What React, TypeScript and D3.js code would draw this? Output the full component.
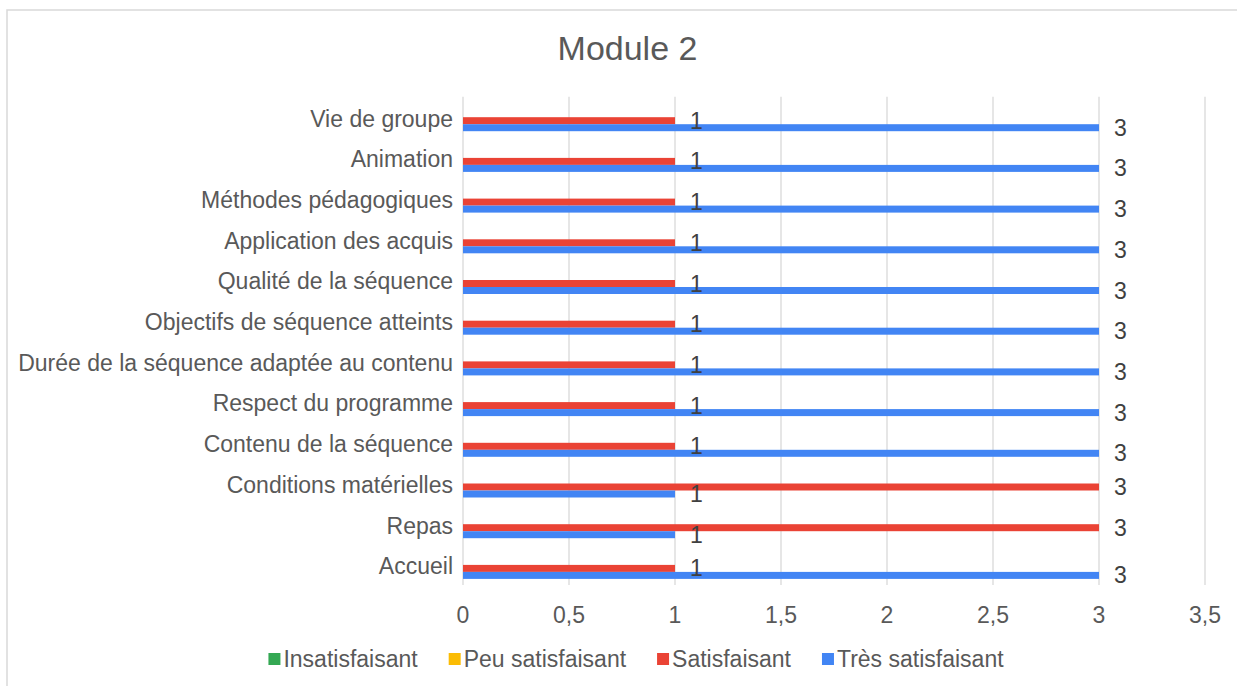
import React, { useEffect, useRef } from "react";
import * as d3 from "d3";

const title = "Module 2";
const categories = [
  "Vie de groupe",
  "Animation",
  "Méthodes pédagogiques",
  "Application des acquis",
  "Qualité de la séquence",
  "Objectifs de séquence atteints",
  "Durée de la séquence adaptée au contenu",
  "Respect du programme",
  "Contenu de la séquence",
  "Conditions matérielles",
  "Repas",
  "Accueil",
];
const seriesNames = ["Insatisfaisant", "Peu satisfaisant", "Satisfaisant", "Très satisfaisant"];
const seriesColors = ["#34a853", "#fbbc04", "#ea4335", "#4285f4"];
const insatisfaisant = [0, 0, 0, 0, 0, 0, 0, 0, 0, 0, 0, 0];
const peuSatisfaisant = [0, 0, 0, 0, 0, 0, 0, 0, 0, 0, 0, 0];
const satisfaisant = [1, 1, 1, 1, 1, 1, 1, 1, 1, 3, 3, 1];
const tresSatisfaisant = [3, 3, 3, 3, 3, 3, 3, 3, 3, 1, 1, 3];
const seriesValues = [insatisfaisant, peuSatisfaisant, satisfaisant, tresSatisfaisant];
const xTicks = [0, 0.5, 1, 1.5, 2, 2.5, 3, 3.5];

const W = 1237;
const H = 686;
const TEXT = "#595959";
const FONT = "'Liberation Sans', Arial, sans-serif";
const FS = 23;

export default function App() {
  const ref = useRef<SVGSVGElement | null>(null);

  useEffect(() => {
    const svg = d3.select(ref.current);
    svg.selectAll("*").remove();

    svg
      .append("rect")
      .attr("x", 7)
      .attr("y", 10)
      .attr("width", W + 20)
      .attr("height", H + 20)
      .attr("fill", "#fff")
      .attr("stroke", "#d9d9d9")
      .attr("stroke-width", 1.5);

    svg
      .append("text")
      .attr("x", 627.5)
      .attr("y", 60)
      .attr("text-anchor", "middle")
      .attr("font-family", FONT)
      .attr("font-size", 34)
      .attr("fill", TEXT)
      .text(title);

    const x = d3.scaleLinear().domain([0, 3.5]).range([463, 1205]);
    const y = d3.scaleBand<string>().domain(categories).range([96.7, 585.1]).padding(0);
    const sub = d3
      .scaleBand<string>()
      .domain(seriesNames)
      .range([6.5, 34.5])
      .padding(0);

    // gridlines
    svg
      .append("g")
      .selectAll("line")
      .data(xTicks)
      .join("line")
      .attr("x1", (d) => x(d))
      .attr("x2", (d) => x(d))
      .attr("y1", 96.7)
      .attr("y2", 585.1)
      .attr("stroke", "#d9d9d9")
      .attr("stroke-width", 1.3);

    // tick labels
    svg
      .append("g")
      .selectAll("text")
      .data(xTicks)
      .join("text")
      .attr("x", (d) => x(d))
      .attr("y", 623)
      .attr("text-anchor", "middle")
      .attr("font-family", FONT)
      .attr("font-size", FS)
      .attr("fill", TEXT)
      .text((d) => String(d).replace(".", ","));

    // category labels
    svg
      .append("g")
      .selectAll("text")
      .data(categories)
      .join("text")
      .attr("x", 453)
      .attr("y", (d) => (y(d) as number) + y.bandwidth() / 2 + 9.5)
      .attr("text-anchor", "end")
      .attr("font-family", FONT)
      .attr("font-size", FS)
      .attr("fill", TEXT)
      .text((d) => d);

    // bars
    seriesNames.forEach((s, si) => {
      const vals = seriesValues[si];
      svg
        .append("g")
        .selectAll("rect")
        .data(categories)
        .join("rect")
        .attr("x", x(0))
        .attr("y", (d) => (y(d) as number) + (sub(s) as number))
        .attr("width", (d, i) => x(vals[i]) - x(0))
        .attr("height", sub.bandwidth())
        .attr("fill", seriesColors[si]);
    });

    // data labels (drawn on top of all bars)
    seriesNames.forEach((s, si) => {
      const vals = seriesValues[si];
      svg
        .append("g")
        .selectAll("text")
        .data(categories.filter((_, i) => vals[i] > 0))
        .join("text")
        .attr("x", (d) => x(vals[categories.indexOf(d)]) + 15)
        .attr("y", (d) => (y(d) as number) + (sub(s) as number) + sub.bandwidth() / 2 + 8)
        .attr("font-family", FONT)
        .attr("font-size", FS)
        .attr("fill", "#404040")
        .text((d) => String(vals[categories.indexOf(d)]));
    });

    // legend
    const leg = svg.append("g");
    const items = leg.selectAll("g").data(seriesNames).join("g");
    items
      .append("rect")
      .attr("width", 12)
      .attr("height", 12)
      .attr("y", 653)
      .attr("fill", (d, i) => seriesColors[i]);
    items
      .append("text")
      .attr("x", 15)
      .attr("y", 667)
      .attr("font-family", FONT)
      .attr("font-size", FS)
      .attr("fill", TEXT)
      .text((d) => d);
    const widths: number[] = [];
    items.each(function () {
      const t = d3.select(this).select("text").node() as SVGTextElement;
      widths.push(15 + t.getComputedTextLength());
    });
    const gap = 31;
    const total = widths.reduce((a, b) => a + b, 0) + gap * (widths.length - 1);
    let start = 636 - total / 2;
    items.attr("transform", (d, i) => {
      const tx = start;
      start += widths[i] + gap;
      return `translate(${tx},0)`;
    });
  }, []);

  return (
    <svg
      ref={ref}
      width={W}
      height={H}
      style={{ position: "absolute", left: 0, top: 0, display: "block" }}
    />
  );
}
